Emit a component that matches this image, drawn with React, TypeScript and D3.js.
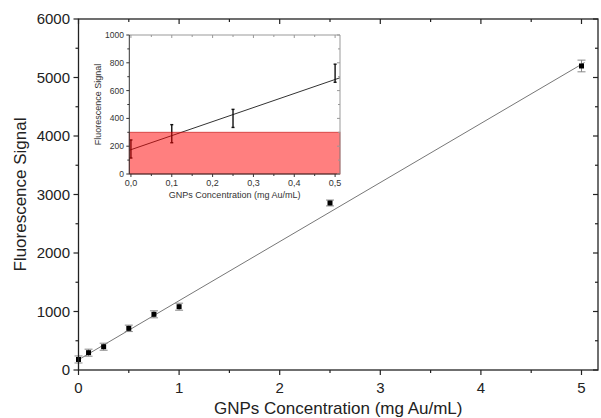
import React from "react";
import * as d3 from "d3";

const W = 601, H = 418;

// Main data
const mainX = [0, 0.1, 0.25, 0.5, 0.75, 1, 2.5, 5];
const mainY = [180, 296, 398, 712, 952, 1082, 2855, 5197];
const mainErr = [60, 60, 60, 55, 60, 60, 50, 100];
const fitIntercept = 175;
const fitSlope = 1010;
const mainXTicks = [0, 1, 2, 3, 4, 5];
const mainYTicks = [0, 1000, 2000, 3000, 4000, 5000, 6000];

// Inset data
const insetX = [0, 0.1, 0.25, 0.5];
const insetY = [180, 290, 400, 725];
const insetErr = [65, 65, 65, 65];
const insetThreshold = 300;
const insetXTicks = [0, 0.1, 0.2, 0.3, 0.4, 0.5];
const insetYTicks = [0, 200, 400, 600, 800, 1000];

const FONT = "'Liberation Sans', Arial, sans-serif";

export default function App() {
  const x = d3.scaleLinear().domain([0, 5.164]).range([78.5, 598]);
  const y = d3.scaleLinear().domain([0, 6000]).range([370, 19]);
  const ix = d3.scaleLinear().domain([-0.004, 0.512]).range([129.3, 340]);
  const iy = d3.scaleLinear().domain([0, 1000]).range([174, 35]);

  const fitLine = d3.line<number>().x((d) => x(d)).y((d) => y(fitIntercept + fitSlope * d));
  const iFitLine = d3.line<number>().x((d) => ix(d)).y((d) => iy(fitIntercept + fitSlope * d));

  const xMinor = d3.range(0, 5.01, 0.5);
  const yMinor = d3.range(0, 6001, 500);
  const ixMinor = d3.range(0, 0.501, 0.05);
  const iyMinor = d3.range(0, 1001, 100);

  const [x0, x1] = x.range();
  const [y0, y1] = y.range();
  const [ix0, ix1] = ix.range();
  const [iy0, iy1] = iy.range();

  return (
    <svg width={W} height={H} style={{ position: "absolute", left: 0, top: 0, background: "#fff" }}>
      <rect x={0} y={0} width={W} height={H} fill="#fff" />
      {/* main fit line */}
      <path d={fitLine([0, 5.03]) || ""} stroke="#777" strokeWidth={1} fill="none" />
      {/* main error bars */}
      {mainX.map((d, i) => {
        const cx = x(d);
        const t = y(mainY[i] + mainErr[i]);
        const b = y(mainY[i] - mainErr[i]);
        return (
          <g key={"e" + i} stroke="#888" strokeWidth={1}>
            <line x1={cx} x2={cx} y1={t} y2={b} />
            <line x1={cx - 4} x2={cx + 4} y1={t} y2={t} />
            <line x1={cx - 4} x2={cx + 4} y1={b} y2={b} />
          </g>
        );
      })}
      {mainX.map((d, i) => (
        <rect key={"p" + i} x={x(d) - 2.5} y={y(mainY[i]) - 2.5} width={5} height={5} fill="#000" />
      ))}
      {/* main frame */}
      <rect x={x0} y={y1} width={x1 - x0} height={y0 - y1} fill="none" stroke="#222" strokeWidth={1.3} />
      {/* bottom ticks (outward) and top ticks (inward) */}
      {xMinor.map((d, i) => {
        const major = Math.abs(d - Math.round(d)) < 1e-6;
        const len = major ? 5 : 3;
        return (
          <g key={"xt" + i} stroke="#222" strokeWidth={1.2}>
            <line x1={x(d)} x2={x(d)} y1={y0} y2={y0 + len} />
            <line x1={x(d)} x2={x(d)} y1={y1} y2={y1 + len} />
          </g>
        );
      })}
      {yMinor.map((d, i) => {
        const major = d % 1000 === 0;
        const len = major ? 5 : 3;
        return (
          <g key={"yt" + i} stroke="#222" strokeWidth={1.2}>
            <line x1={x0 - len} x2={x0} y1={y(d)} y2={y(d)} />
            <line x1={x1 - len} x2={x1} y1={y(d)} y2={y(d)} />
          </g>
        );
      })}
      {mainXTicks.map((d) => (
        <text key={"xl" + d} x={x(d)} y={393} textAnchor="middle" fontFamily={FONT} fontSize={15} fill="#222">
          {d}
        </text>
      ))}
      {mainYTicks.map((d) => (
        <text key={"yl" + d} x={70} y={y(d) + 5} textAnchor="end" fontFamily={FONT} fontSize={15} fill="#222">
          {d}
        </text>
      ))}
      <text x={(x0 + x1) / 2} y={414} textAnchor="middle" fontFamily={FONT} fontSize={17} fill="#222">
        GNPs Concentration (mg Au/mL)
      </text>
      <text
        transform={`translate(26,${(y0 + y1) / 2}) rotate(-90)`}
        textAnchor="middle"
        fontFamily={FONT}
        fontSize={17}
        fill="#222"
      >
        Fluorescence Signal
      </text>

      {/* inset */}
      <rect x={ix0} y={iy1} width={ix1 - ix0} height={iy0 - iy1} fill="#fff" />
      <path d={iFitLine([-0.004, 0.512]) || ""} stroke="#333" strokeWidth={1} fill="none" />
      {insetX.map((d, i) => {
        const cx = ix(d);
        const t = iy(insetY[i] + insetErr[i]);
        const b = iy(insetY[i] - insetErr[i]);
        return (
          <g key={"ie" + i} stroke="#111" strokeWidth={1.4}>
            <line x1={cx} x2={cx} y1={t} y2={b} />
            <line x1={cx - 1.5} x2={cx + 1.5} y1={t} y2={t} />
            <line x1={cx - 1.5} x2={cx + 1.5} y1={b} y2={b} />
          </g>
        );
      })}
      <rect
        x={ix0}
        y={iy(insetThreshold)}
        width={ix1 - ix0}
        height={iy0 - iy(insetThreshold)}
        fill="rgb(255,0,0)"
        fillOpacity={0.5}
        stroke="rgba(190,0,0,0.6)"
        strokeWidth={1}
      />
      <line x1={ix0} x2={ix1} y1={iy1} y2={iy1} stroke="#999" strokeWidth={1} />
      <line x1={ix1} x2={ix1} y1={iy1} y2={iy0} stroke="#999" strokeWidth={1} />
      <line x1={ix0} x2={ix0} y1={iy1} y2={iy0} stroke="#333" strokeWidth={1} />
      <line x1={ix0} x2={ix1} y1={iy0} y2={iy0} stroke="#333" strokeWidth={1} />
      {ixMinor.map((d, i) => {
        const major = i % 2 === 0;
        const len = major ? 3 : 2;
        return (
          <g key={"ixt" + i}>
            <line x1={ix(d)} x2={ix(d)} y1={iy0} y2={iy0 + len} stroke="#333" strokeWidth={1} />
            <line x1={ix(d)} x2={ix(d)} y1={iy1} y2={iy1 + len} stroke="#999" strokeWidth={1} />
          </g>
        );
      })}
      {iyMinor.map((d, i) => {
        const major = i % 2 === 0;
        const len = major ? 3 : 2;
        return (
          <g key={"iyt" + i}>
            <line x1={ix0 - len} x2={ix0} y1={iy(d)} y2={iy(d)} stroke="#333" strokeWidth={1} />
            <line x1={ix1 - len} x2={ix1} y1={iy(d)} y2={iy(d)} stroke="#999" strokeWidth={1} />
          </g>
        );
      })}
      {insetXTicks.map((d) => (
        <text key={"ixl" + d} x={ix(d)} y={186} textAnchor="middle" fontFamily={FONT} fontSize={9} fill="#333">
          {d.toFixed(1).replace(".", ",")}
        </text>
      ))}
      {insetYTicks.map((d) => (
        <text key={"iyl" + d} x={124} y={iy(d) + 3} textAnchor="end" fontFamily={FONT} fontSize={8.5} fill="#333">
          {d}
        </text>
      ))}
      <text x={(ix0 + ix1) / 2} y={198} textAnchor="middle" fontFamily={FONT} fontSize={9} fill="#333">
        GNPs Concentration (mg Au/mL)
      </text>
      <text
        transform={`translate(101,${(iy0 + iy1) / 2}) rotate(-90)`}
        textAnchor="middle"
        fontFamily={FONT}
        fontSize={9}
        fill="#333"
      >
        Fluorescence Signal
      </text>
    </svg>
  );
}
